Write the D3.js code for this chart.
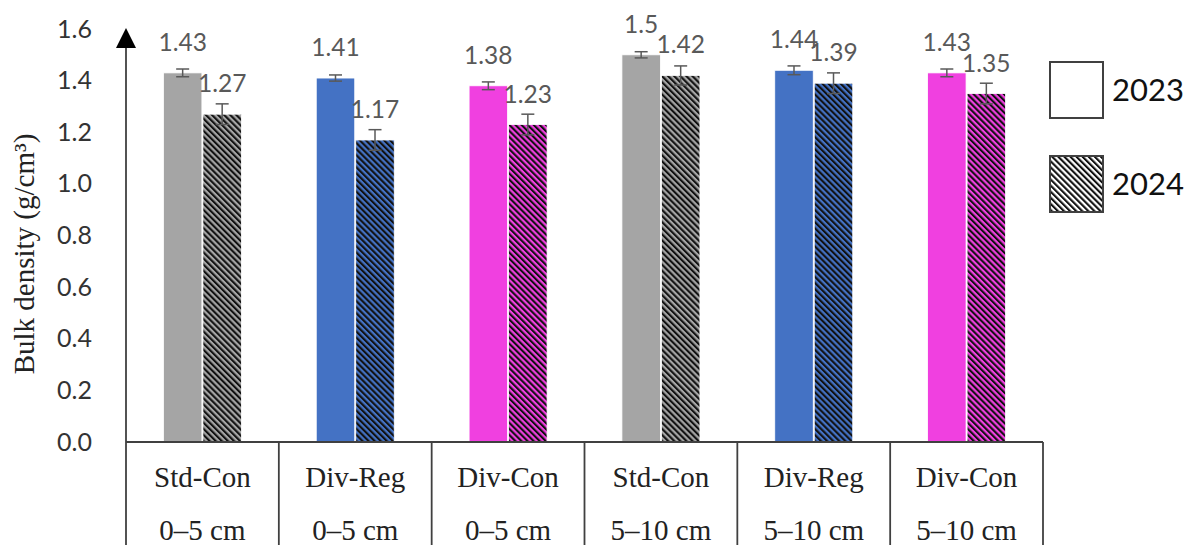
<!DOCTYPE html>
<html>
<head>
<meta charset="utf-8">
<script src="https://cdn.jsdelivr.net/npm/d3@7"></script>
<style>
  html, body { margin: 0; padding: 0; background: #fff; }
  svg { display: block; }
</style>
</head>
<body>
<svg id="chart" width="1188" height="545"></svg>
<script>
// Treatments and soil depths along the x axis
const treatments = ["Std-Con", "Div-Reg", "Div-Con", "Std-Con", "Div-Reg", "Div-Con"];
const depths = ["0–5 cm", "0–5 cm", "0–5 cm", "5–10 cm", "5–10 cm", "5–10 cm"];
const years = ["2023", "2024"];

// Bulk density (g/cm³) per year, with standard errors
const density2023 = [1.43, 1.41, 1.38, 1.5, 1.44, 1.43];
const density2024 = [1.27, 1.17, 1.23, 1.42, 1.39, 1.35];
const error2023 = [0.015, 0.012, 0.015, 0.012, 0.017, 0.015];
const error2024 = [0.04, 0.04, 0.04, 0.037, 0.04, 0.04];

const yTicks = [0, 0.2, 0.4, 0.6, 0.8, 1.0, 1.2, 1.4, 1.6];
const treatmentColors = ["#a5a5a5", "#4472c4", "#f040e0", "#a5a5a5", "#4472c4", "#f040e0"];

const svg = d3.select("#chart");
const W = 1188, H = 545;

const plotLeft = 126, plotRight = 1043, plotTop = 29, plotBottom = 442;

const x = d3.scaleBand().domain(d3.range(treatments.length)).range([plotLeft, plotRight]).padding(0);
const bw = x.bandwidth();
const xSub = d3.scaleBand().domain(years).range([bw / 2 - 39, bw / 2 + 39]).paddingInner(0.026);
const y = d3.scaleLinear().domain([0, 1.6]).range([plotBottom, plotTop]);

// Diagonal hatch patterns, one per fill colour plus a white one for the legend
const defs = svg.append("defs");
function hatch(id, bg) {
  const p = defs.append("pattern")
    .attr("id", id)
    .attr("patternUnits", "userSpaceOnUse")
    .attr("width", 4.3).attr("height", 4.3)
    .attr("patternTransform", "rotate(-45)");
  p.append("rect").attr("width", 4.3).attr("height", 4.3).attr("fill", bg);
  p.append("rect").attr("width", 2.1).attr("height", 4.3).attr("fill", "#111");
}
const uniqueColors = Array.from(new Set(treatmentColors));
uniqueColors.forEach((c, i) => hatch("hatch" + i, c));
hatch("hatchWhite", "#fff");
const hatchId = c => "url(#hatch" + uniqueColors.indexOf(c) + ")";

const rows = treatments.map((t, i) => ({
  i,
  color: treatmentColors[i],
  values: [
    { year: "2023", v: density2023[i], e: error2023[i] },
    { year: "2024", v: density2024[i], e: error2024[i] }
  ]
}));

// Bars
const groups = svg.append("g").selectAll("g").data(rows).join("g")
  .attr("transform", d => `translate(${x(d.i)},0)`);

groups.selectAll("rect.bar").data(d => d.values.map(v => ({ ...v, color: d.color })))
  .join("rect")
  .attr("class", "bar")
  .attr("x", d => xSub(d.year))
  .attr("width", xSub.bandwidth())
  .attr("y", d => y(d.v))
  .attr("height", d => y(0) - y(d.v))
  .attr("fill", d => d.year === "2023" ? d.color : hatchId(d.color))
  .attr("stroke", "#fff")
  .attr("stroke-width", 0.8);

// Error bars
const err = groups.selectAll("g.err").data(d => d.values).join("g").attr("class", "err")
  .attr("stroke", "#595959").attr("stroke-width", 1.5);
err.append("line")
  .attr("x1", d => xSub(d.year) + xSub.bandwidth() / 2)
  .attr("x2", d => xSub(d.year) + xSub.bandwidth() / 2)
  .attr("y1", d => y(d.v + d.e)).attr("y2", d => y(d.v - d.e));
err.selectAll("line.cap").data(d => [d.v + d.e, d.v - d.e].map(val => ({ year: d.year, val })))
  .join("line").attr("class", "cap")
  .attr("x1", d => xSub(d.year) + xSub.bandwidth() / 2 - 6.5)
  .attr("x2", d => xSub(d.year) + xSub.bandwidth() / 2 + 6.5)
  .attr("y1", d => y(d.val)).attr("y2", d => y(d.val));

// Value labels
groups.selectAll("text.val").data(d => d.values).join("text")
  .attr("class", "val")
  .attr("x", d => xSub(d.year) + xSub.bandwidth() / 2)
  .attr("y", d => y(d.v) - 22)
  .attr("text-anchor", "middle")
  .attr("font-family", "Lato, 'Open Sans', sans-serif")
  .attr("font-size", 24.5)
  .attr("fill", "#595959")
  .text(d => String(d.v));

// Y axis labels
const yAxis = d3.axisLeft(y).tickValues(yTicks).tickFormat(d3.format(".1f")).tickSize(0).tickPadding(34);
const yg = svg.append("g").attr("transform", `translate(${plotLeft},0)`).call(yAxis);
yg.select(".domain").remove();
yg.selectAll("text")
  .attr("font-family", "Lato, 'Open Sans', sans-serif")
  .attr("font-size", 25)
  .attr("fill", "#333");

// Y axis line with arrow head
const lineColor = "#404040";
svg.append("line")
  .attr("x1", plotLeft).attr("x2", plotLeft)
  .attr("y1", H).attr("y2", plotTop + 14)
  .attr("stroke", lineColor).attr("stroke-width", 1.8);
svg.append("path")
  .attr("d", `M${plotLeft},${plotTop - 1} L${plotLeft - 10},${plotTop + 19} L${plotLeft + 10},${plotTop + 19} Z`)
  .attr("fill", "#000");

// Baseline and category table lines
svg.append("line")
  .attr("x1", plotLeft).attr("x2", plotRight)
  .attr("y1", plotBottom).attr("y2", plotBottom)
  .attr("stroke", lineColor).attr("stroke-width", 1.8);
svg.append("g").selectAll("line").data(d3.range(1, treatments.length + 1)).join("line")
  .attr("x1", i => x(i - 1) + bw).attr("x2", i => x(i - 1) + bw)
  .attr("y1", plotBottom).attr("y2", H)
  .attr("stroke", lineColor).attr("stroke-width", 1.8);

// Category labels: treatment and depth rows
const catFont = "'Liberation Serif', 'Times New Roman', serif";
svg.append("g").selectAll("text").data(treatments).join("text")
  .attr("x", (d, i) => x(i) + bw / 2)
  .attr("y", 487)
  .attr("text-anchor", "middle")
  .attr("font-family", catFont).attr("font-size", 29).attr("fill", "#222")
  .text(d => d);
svg.append("g").selectAll("text").data(depths).join("text")
  .attr("x", (d, i) => x(i) + bw / 2)
  .attr("y", 540)
  .attr("text-anchor", "middle")
  .attr("font-family", catFont).attr("font-size", 29).attr("fill", "#222")
  .text(d => d);

// Y axis title
svg.append("text")
  .attr("transform", "translate(34,254) rotate(-90)")
  .attr("text-anchor", "middle")
  .attr("font-family", catFont).attr("font-size", 29).attr("fill", "#222")
  .text("Bulk density (g/cm³)");

// Legend
const legend = svg.append("g").selectAll("g").data(years).join("g")
  .attr("transform", (d, i) => `translate(1050,${i === 0 ? 62 : 156})`);
legend.append("rect")
  .attr("width", 53).attr("height", 56)
  .attr("fill", (d, i) => i === 0 ? "#fff" : "url(#hatchWhite)")
  .attr("stroke", "#404040").attr("stroke-width", 2);
legend.append("text")
  .attr("x", 62).attr("y", 28)
  .attr("dy", "0.36em")
  .attr("font-family", "Lato, 'Open Sans', sans-serif")
  .attr("font-size", 31).attr("fill", "#111")
  .text(d => d);
</script>
</body>
</html>
